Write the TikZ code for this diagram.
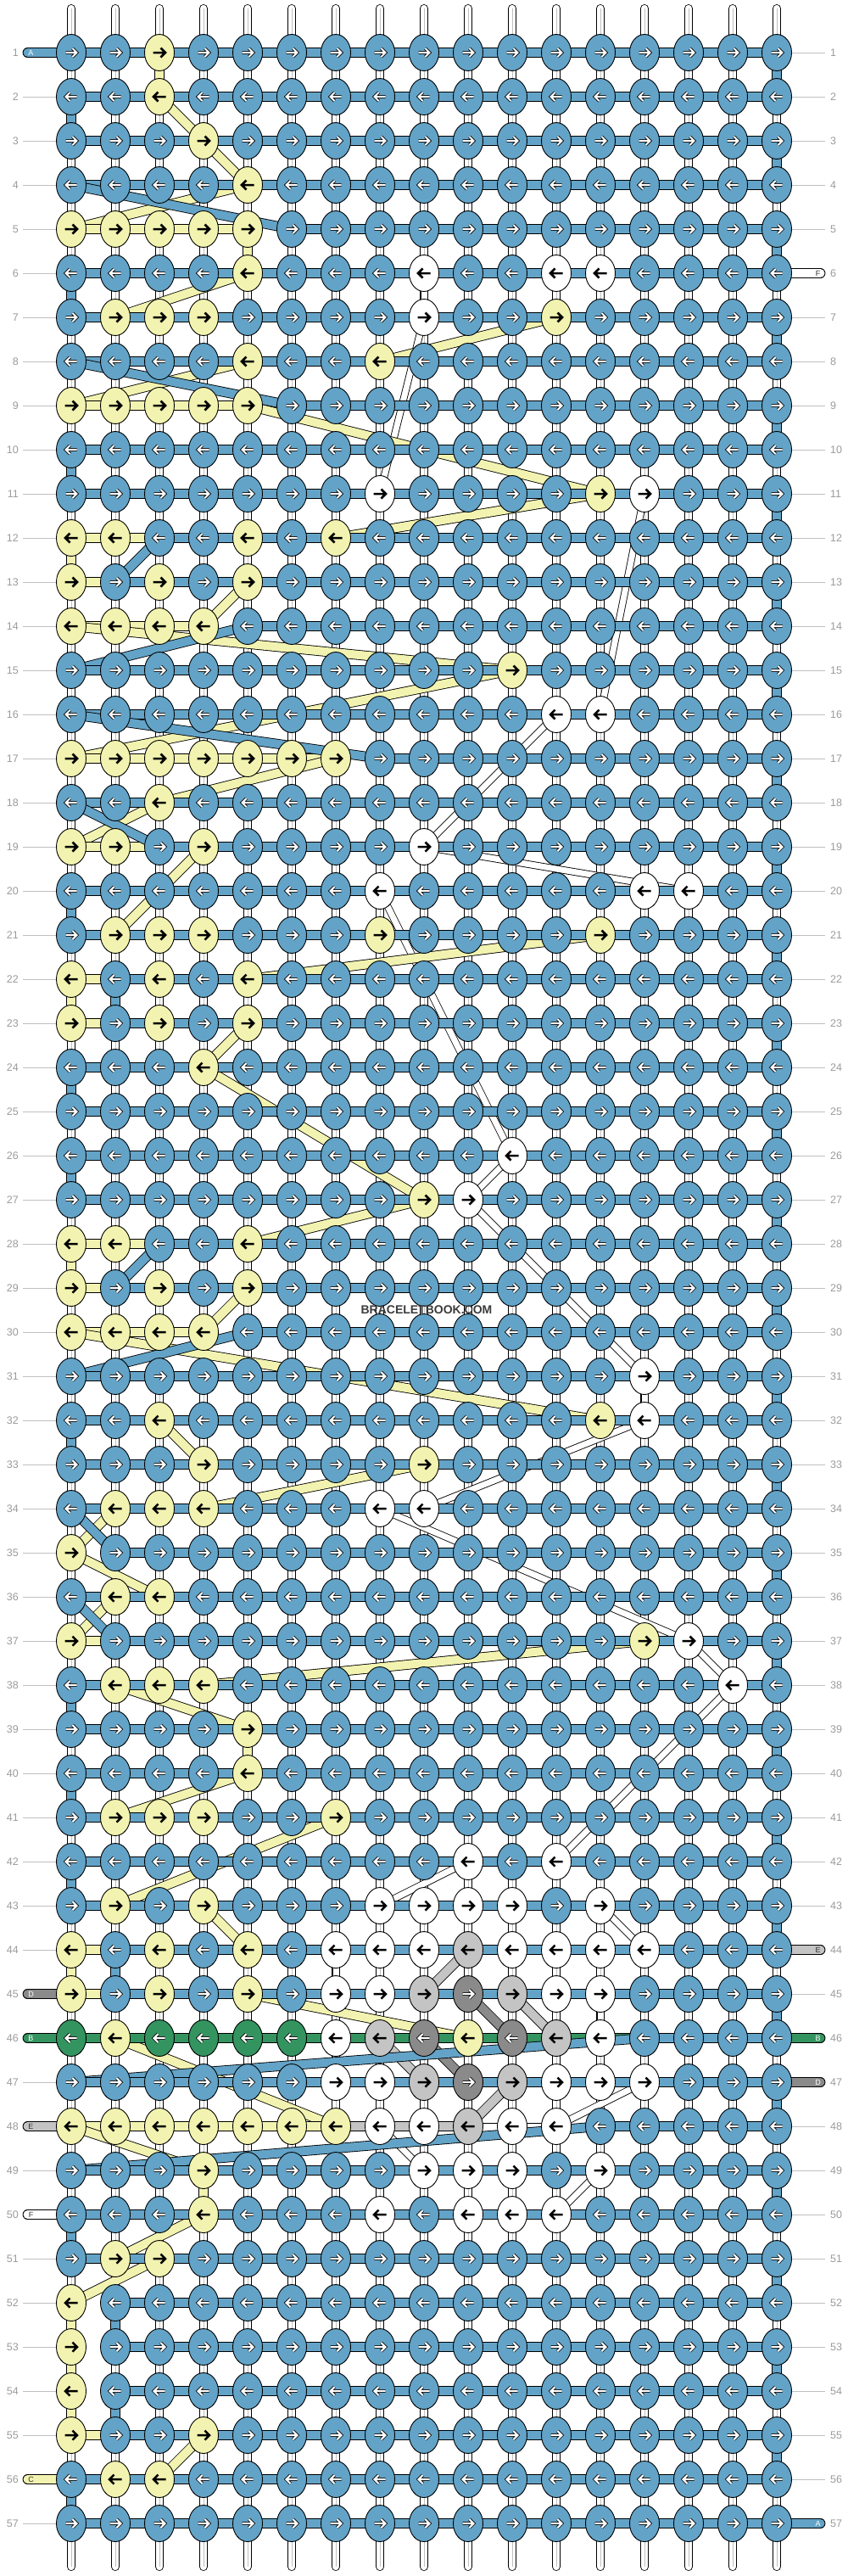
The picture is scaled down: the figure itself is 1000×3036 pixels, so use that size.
\documentclass[tikz,border=0pt]{standalone}
\usepackage{fontspec}
\setmainfont{Liberation Sans}
\usetikzlibrary{shapes.geometric}
\definecolor{cola}{RGB}{99,163,199}
\definecolor{colb}{RGB}{52,148,96}
\definecolor{colc}{RGB}{242,243,176}
\definecolor{cold}{RGB}{138,138,138}
\definecolor{cole}{RGB}{196,196,196}
\definecolor{colf}{RGB}{255,255,255}
\definecolor{lblgray}{RGB}{155,155,155}
\definecolor{linegray}{RGB}{192,192,192}
\definecolor{markgray}{RGB}{60,60,60}
\definecolor{darktxt}{RGB}{50,50,50}
\newcommand\gridrows{%
{a,a,c,a,a,a,a,a,a,a,a,a,a,a,a,a,a},%1
{a,a,c,a,a,a,a,a,a,a,a,a,a,a,a,a,a},%2
{a,a,a,c,a,a,a,a,a,a,a,a,a,a,a,a,a},%3
{a,a,a,a,c,a,a,a,a,a,a,a,a,a,a,a,a},%4
{c,c,c,c,c,a,a,a,a,a,a,a,a,a,a,a,a},%5
{a,a,a,a,c,a,a,a,f,a,a,f,f,a,a,a,a},%6
{a,c,c,c,a,a,a,a,f,a,a,c,a,a,a,a,a},%7
{a,a,a,a,c,a,a,c,a,a,a,a,a,a,a,a,a},%8
{c,c,c,c,c,a,a,a,a,a,a,a,a,a,a,a,a},%9
{a,a,a,a,a,a,a,a,a,a,a,a,a,a,a,a,a},%10
{a,a,a,a,a,a,a,f,a,a,a,a,c,f,a,a,a},%11
{c,c,a,a,c,a,c,a,a,a,a,a,a,a,a,a,a},%12
{c,a,c,a,c,a,a,a,a,a,a,a,a,a,a,a,a},%13
{c,c,c,c,a,a,a,a,a,a,a,a,a,a,a,a,a},%14
{a,a,a,a,a,a,a,a,a,a,c,a,a,a,a,a,a},%15
{a,a,a,a,a,a,a,a,a,a,a,f,f,a,a,a,a},%16
{c,c,c,c,c,c,c,a,a,a,a,a,a,a,a,a,a},%17
{a,a,c,a,a,a,a,a,a,a,a,a,a,a,a,a,a},%18
{c,c,a,c,a,a,a,a,f,a,a,a,a,a,a,a,a},%19
{a,a,a,a,a,a,a,f,a,a,a,a,a,f,f,a,a},%20
{a,c,c,c,a,a,a,c,a,a,a,a,c,a,a,a,a},%21
{c,a,c,a,c,a,a,a,a,a,a,a,a,a,a,a,a},%22
{c,a,c,a,c,a,a,a,a,a,a,a,a,a,a,a,a},%23
{a,a,a,c,a,a,a,a,a,a,a,a,a,a,a,a,a},%24
{a,a,a,a,a,a,a,a,a,a,a,a,a,a,a,a,a},%25
{a,a,a,a,a,a,a,a,a,a,f,a,a,a,a,a,a},%26
{a,a,a,a,a,a,a,a,c,f,a,a,a,a,a,a,a},%27
{c,c,a,a,c,a,a,a,a,a,a,a,a,a,a,a,a},%28
{c,a,c,a,c,a,a,a,a,a,a,a,a,a,a,a,a},%29
{c,c,c,c,a,a,a,a,a,a,a,a,a,a,a,a,a},%30
{a,a,a,a,a,a,a,a,a,a,a,a,a,f,a,a,a},%31
{a,a,c,a,a,a,a,a,a,a,a,a,c,f,a,a,a},%32
{a,a,a,c,a,a,a,a,c,a,a,a,a,a,a,a,a},%33
{a,c,c,c,a,a,a,f,f,a,a,a,a,a,a,a,a},%34
{c,a,a,a,a,a,a,a,a,a,a,a,a,a,a,a,a},%35
{a,c,c,a,a,a,a,a,a,a,a,a,a,a,a,a,a},%36
{c,a,a,a,a,a,a,a,a,a,a,a,a,c,f,a,a},%37
{a,c,c,c,a,a,a,a,a,a,a,a,a,a,a,f,a},%38
{a,a,a,a,c,a,a,a,a,a,a,a,a,a,a,a,a},%39
{a,a,a,a,c,a,a,a,a,a,a,a,a,a,a,a,a},%40
{a,c,c,c,a,a,c,a,a,a,a,a,a,a,a,a,a},%41
{a,a,a,a,a,a,a,a,a,f,a,f,a,a,a,a,a},%42
{a,c,a,c,a,a,a,f,f,f,f,a,f,a,a,a,a},%43
{c,a,c,a,c,a,f,f,f,e,f,f,f,f,a,a,a},%44
{c,a,c,a,c,a,f,f,e,d,e,f,f,a,a,a,a},%45
{b,c,b,b,b,b,f,e,d,c,d,e,f,a,a,a,a},%46
{a,a,a,a,a,a,f,f,e,d,e,f,f,f,a,a,a},%47
{c,c,c,c,c,c,c,f,f,e,f,f,a,a,a,a,a},%48
{a,a,a,c,a,a,a,a,f,f,f,a,f,a,a,a,a},%49
{a,a,a,c,a,a,a,f,a,f,f,f,a,a,a,a,a},%50
{a,c,c,a,a,a,a,a,a,a,a,a,a,a,a,a,a},%51
{c,a,a,a,a,a,a,a,a,a,a,a,a,a,a,a,a},%52
{c,a,a,a,a,a,a,a,a,a,a,a,a,a,a,a,a},%53
{c,a,a,a,a,a,a,a,a,a,a,a,a,a,a,a,a},%54
{c,a,a,c,a,a,a,a,a,a,a,a,a,a,a,a,a},%55
{a,c,c,a,a,a,a,a,a,a,a,a,a,a,a,a,a},%56
{a,a,a,a,a,a,a,a,a,a,a,a,a,a,a,a,a}}%57
\def\lta{a}\def\ltb{b}\def\ltd{d}
\newcommand\strandseg[4]{%
  \draw[line width=#2+1.7pt, black] (#3) -- (#4);
  \draw[line width=#2, #1] (#3) -- (#4);}
\newcommand\tailseg[3]{%
  \draw[black, line width=11.8pt, line cap=round] (#2) -- (#3);
  \draw[#1, line width=10pt, line cap=round] (#2) -- (#3);}
\newcommand\drawstrand[3]{%
  \def\targ{#1}%
  \gdef\prevr{0}\gdef\prevc{0}%
  \foreach \rowlist [count=\rw] in \gridrows {%
    \gdef\smn{0}\gdef\smx{0}%
    \foreach \kk [count=\cl] in \rowlist {%
      \ifx\kk\targ
        \ifnum\smn=0 \xdef\smn{\cl}\fi
        \xdef\smx{\cl}%
      \fi
    }%
    \ifnum\smn>0
      \ifodd\rw \edef\sen{\smn}\edef\sex{\smx}\else \edef\sen{\smx}\edef\sex{\smn}\fi
      \ifnum\prevr>0
        \strandseg{#2}{#3}{p-\prevr-\prevc}{p-\rw-\sen}%
      \fi
      \ifnum\smn<\smx
        \strandseg{#2}{#3}{p-\rw-\smn}{p-\rw-\smx}%
      \fi
      \xdef\prevr{\rw}\xdef\prevc{\sex}%
    \fi
  }%
}
\begin{document}
\begin{tikzpicture}[x=1pt,y=-1pt,
  knot/.style={ellipse, draw=black, line width=0.9pt, minimum width=35pt, minimum height=43pt, inner sep=0pt},
  rowlbl/.style={font=\fontsize{12.5}{12.5}\selectfont, text=lblgray, inner sep=0pt},
  taillbl/.style={font=\fontsize{9}{9}\selectfont, inner sep=0pt},
  lblline/.style={draw=linegray, line width=1pt}]
\useasboundingbox (0,0) rectangle (1000,3036);
\fill[white] (0,0) rectangle (1000,3036);
% coordinates
\foreach \rw in {1,...,57}{
  \foreach \cl in {1,...,17}{
    \coordinate (p-\rw-\cl) at ({84+52*(\cl-1)},{62+52*(\rw-1)});
  }
  \coordinate (tl-\rw) at (32.5,{62+52*(\rw-1)});
  \coordinate (tr-\rw) at (967.5,{62+52*(\rw-1)});
  \coordinate (ll-\rw) at (27,{62+52*(\rw-1)});
  \coordinate (lr-\rw) at (973,{62+52*(\rw-1)});
}
% row labels and lines
\foreach \rw in {1,...,57}{
  \node[rowlbl, anchor=east] (nl-\rw) at (22,{62+52*(\rw-1)}) {\rw};
  \node[rowlbl, anchor=west] (nr-\rw) at (979,{62+52*(\rw-1)}) {\rw};
  \draw[lblline] (ll-\rw) -- (p-\rw-1);
  \draw[lblline] (p-\rw-17) -- (lr-\rw);
}
% base strands
\foreach \cl in {1,...,17}{
  \coordinate (bt-\cl) at ({84+52*(\cl-1)},10);
  \coordinate (bb-\cl) at ({84+52*(\cl-1)},3025);
  \draw[black, line width=10pt, line cap=round] (bt-\cl) -- (bb-\cl);
  \draw[white, line width=8.4pt, line cap=round] (bt-\cl) -- (bb-\cl);
  \draw[linegray, line width=0.7pt] (bt-\cl) -- (bb-\cl);
}
% strands
\tailseg{colf}{tr-6}{p-6-13}
\tailseg{colf}{p-50-8}{tl-50}
\drawstrand{f}{colf}{7pt}
\tailseg{cole}{tr-44}{p-44-10}
\tailseg{cole}{p-48-10}{tl-48}
\drawstrand{e}{cole}{10pt}
\tailseg{cold}{tl-45}{p-45-10}
\tailseg{cold}{p-47-10}{tr-47}
\drawstrand{d}{cold}{10pt}
\tailseg{colc}{p-56-2}{tl-56}
\drawstrand{c}{colc}{10pt}
\tailseg{colb}{tr-46}{p-46-6}
\tailseg{colb}{p-46-1}{tl-46}
\drawstrand{b}{colb}{10pt}
\tailseg{cola}{tl-1}{p-1-1}
\tailseg{cola}{p-57-17}{tr-57}
\drawstrand{a}{cola}{10pt}
% knots
\foreach \rowlist [count=\rw] in \gridrows {
  \foreach \kk [count=\cl] in \rowlist {
    \edef\fillc{col\kk}
    \node[knot, fill=\fillc] (k-\rw-\cl) at (p-\rw-\cl) {};
    \ifodd\rw \def\adir{1}\else\def\adir{-1}\fi
    \def\isdark{0}
    \ifx\kk\lta\def\isdark{1}\fi
    \ifx\kk\ltb\def\isdark{1}\fi
    \ifx\kk\ltd\def\isdark{1}\fi
    \ifnum\isdark=1
      \draw[shift={(p-\rw-\cl)}, xscale=\adir, black, line width=3.8pt, line cap=square, line join=miter] (-6.5,0) -- (5.5,0) (1.5,-5) -- (6.5,0) -- (1.5,5);
      \draw[shift={(p-\rw-\cl)}, xscale=\adir, white, line width=2.1pt, line cap=square, line join=miter] (-6.5,0) -- (5.5,0) (1.5,-5) -- (6.5,0) -- (1.5,5);
    \else
      \draw[shift={(p-\rw-\cl)}, xscale=\adir, black, line width=2.5pt, line join=miter] (-7.5,0) -- (6,0) (1.5,-5.5) -- (7,0) -- (1.5,5.5);
    \fi
  }
}
% tail letters
\node[taillbl, text=white] (ta-l) at (36.5,62) {A};
\node[taillbl, text=white] (ta-r) at (964.5,2974) {A};
\node[taillbl, text=white] (td-l) at (36.5,2350) {D};
\node[taillbl, text=white] (td-r) at (964.5,2454) {D};
\node[taillbl, text=white] (tb-l) at (36.5,2402) {B};
\node[taillbl, text=white] (tb-r) at (964.5,2402) {B};
\node[taillbl, text=darktxt] (te-l) at (36.5,2506) {E};
\node[taillbl, text=darktxt] (te-r) at (964.5,2298) {E};
\node[taillbl, text=darktxt] (tf-l) at (36.5,2610) {F};
\node[taillbl, text=darktxt] (tf-r) at (964.5,322) {F};
\node[taillbl, text=darktxt] (tc-l) at (36.5,2922) {C};
% watermark
\node[font=\bfseries\fontsize{14}{14}\selectfont, text=markgray, inner sep=0pt] (wm) at (503,1544) {BRACELETBOOK.COM};
\end{tikzpicture}
\end{document}
